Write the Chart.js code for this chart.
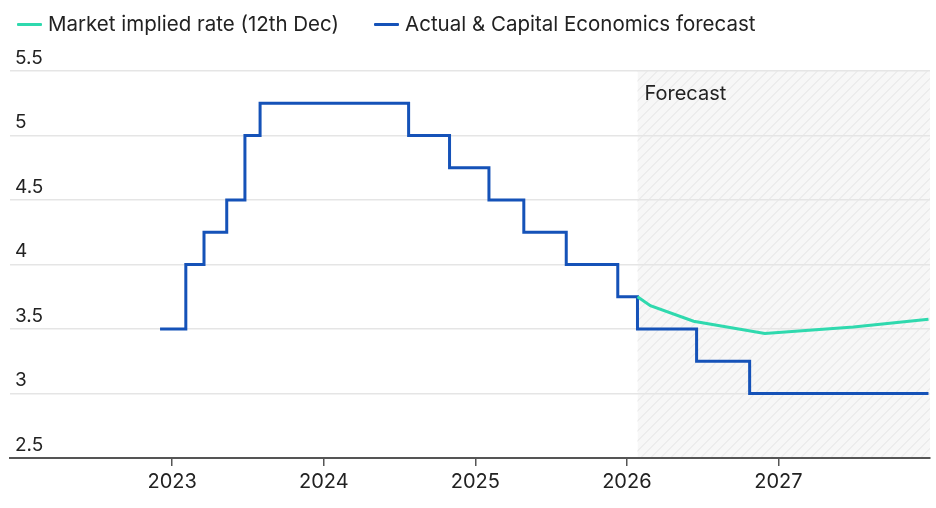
<!DOCTYPE html>
<html><head><meta charset="utf-8">
<script src="https://cdn.jsdelivr.net/npm/chart.js@4"></script>
<style>
html,body{margin:0;padding:0;background:#fff;}
#wrap{position:relative;width:936px;height:508px;}
#chart{position:absolute;left:0;top:0;}
#legend{position:absolute;left:17px;top:12px;display:flex;font:20.5px/24px Inter, sans-serif;color:#222;white-space:nowrap;}
.item{display:flex;align-items:center;margin-right:35px;}
.sw{width:25px;height:3px;margin-right:6px;border-radius:1px;}
</style>
</head><body>
<div id="wrap">
<canvas id="chart" width="936" height="508"></canvas>
<div id="legend"></div>
</div>
<script>
// Decimal-year dates of each rate change (Bank Rate style step series)
const actualDates = [2022.92, 2023.09, 2023.21, 2023.36, 2023.48, 2023.58, 2024.56, 2024.83, 2025.09, 2025.32, 2025.60, 2025.94, 2026.07, 2026.46, 2026.81, 2027.99];
const actualRates = [3.5, 4.0, 4.25, 4.5, 5.0, 5.25, 5.0, 4.75, 4.5, 4.25, 4.0, 3.75, 3.5, 3.25, 3.0, 3.0];
const marketDates = [2026.07, 2026.155, 2026.44, 2026.91, 2027.495, 2027.99];
const marketRates = [3.75, 3.68, 3.56, 3.465, 3.515, 3.575];
const yearTicks = [2023, 2024, 2025, 2026, 2027];
const forecastStart = 2026.07;
const seriesNames = ["Market implied rate (12th Dec)", "Actual & Capital Economics forecast"];
const seriesColors = ["#2fd9ae", "#1552b8"];

const FONT = "Inter, sans-serif";

// HTML legend
const legend = document.getElementById('legend');
seriesNames.forEach((n, i) => {
  const it = document.createElement('div'); it.className = 'item';
  const sw = document.createElement('div'); sw.className = 'sw'; sw.style.background = seriesColors[i];
  const tx = document.createElement('span'); tx.textContent = n;
  it.appendChild(sw); it.appendChild(tx); legend.appendChild(it);
});

const forecastPlugin = {
  id: 'forecast',
  beforeDraw(chart) {
    const {ctx, chartArea, scales} = chart;
    const x0 = scales.x.getPixelForValue(forecastStart);
    const x1 = chartArea.right;
    const y0 = chartArea.top, y1 = chartArea.bottom;
    ctx.save();
    ctx.beginPath();
    ctx.rect(x0, y0, x1 - x0, y1 - y0);
    ctx.clip();
    ctx.fillStyle = '#f7f7f7';
    ctx.fillRect(x0, y0, x1 - x0, y1 - y0);
    ctx.strokeStyle = '#e2e2e2';
    ctx.lineWidth = 1;
    const h = y1 - y0;
    for (let s = x0 - h; s < x1 + 10; s += 10) {
      ctx.beginPath();
      ctx.moveTo(s, y1);
      ctx.lineTo(s + h, y0);
      ctx.stroke();
    }
    ctx.restore();
  },
  beforeDatasetsDraw(chart) {
    const {ctx, chartArea, scales} = chart;
    const x0 = scales.x.getPixelForValue(forecastStart);
    ctx.save();
    ctx.fillStyle = '#222';
    ctx.font = '20px ' + FONT;
    ctx.textBaseline = 'middle';
    ctx.textAlign = 'left';
    ctx.fillText('Forecast', x0 + 7, chartArea.top + 23);
    ctx.restore();
  }
};

new Chart(document.getElementById('chart'), {
  type: 'line',
  data: {
    datasets: [
      {
        label: seriesNames[0],
        data: marketDates.map((d, i) => ({x: d, y: marketRates[i]})),
        borderColor: seriesColors[0], backgroundColor: seriesColors[0],
        borderWidth: 3, pointRadius: 0, tension: 0, fill: false
      },
      {
        label: seriesNames[1],
        data: actualDates.map((d, i) => ({x: d, y: actualRates[i]})),
        borderColor: seriesColors[1], backgroundColor: seriesColors[1],
        borderWidth: 3, pointRadius: 0, stepped: true, fill: false
      }
    ]
  },
  options: {
    responsive: false,
    animation: false,
    layout: {padding: {left: 10, right: 6, top: 71, bottom: 10}},
    plugins: {legend: {display: false}, tooltip: {enabled: false}},
    scales: {
      x: {
        type: 'linear', min: 2021.93, max: 2028.0,
        afterBuildTicks: s => { s.ticks = yearTicks.map(v => ({value: v})); },
        ticks: {color: '#222', font: {family: FONT, size: 20}, padding: 4, maxRotation: 0, callback: v => String(v)},
        grid: {drawOnChartArea: false, drawTicks: true, tickLength: 8, color: '#555', lineWidth: 1.5},
        border: {display: true, color: '#555', width: 2}
      },
      y: {
        min: 2.5, max: 5.5,
        afterFit: s => { s.width = 0; },
        ticks: {stepSize: 0.5, mirror: true, padding: 5, labelOffset: -13, color: '#222', font: {family: FONT, size: 19}, callback: v => String(v)},
        grid: {color: '#e5e5e5', lineWidth: 1.5, drawTicks: false},
        border: {display: false}
      }
    }
  },
  plugins: [forecastPlugin]
});
</script>
</body></html>
